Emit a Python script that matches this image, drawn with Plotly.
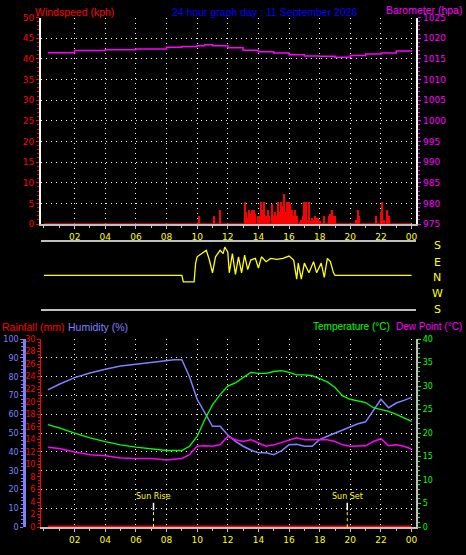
import plotly.graph_objects as go

# ---------------- data ----------------
hour_ticks = [2, 4, 6, 8, 10, 12, 14, 16, 18, 20, 22, 24]
hour_labels = ["02", "04", "06", "08", "10", "12", "14", "16", "18", "20", "22", "00"]

baro_h = [0.25, 2, 4, 6, 8, 9, 10, 10.5, 11, 12, 13, 14, 15, 16, 17, 18, 19, 20, 21, 22, 23, 24]
baro_v = [1016.5, 1017, 1017.2, 1017.4, 1017.8, 1018, 1018.2, 1018.4, 1018.2, 1017.7, 1017.1, 1016.7,
          1016.4, 1016, 1015.7, 1015.6, 1015.4, 1015.8, 1016.2, 1016.4, 1016.9, 1017.1]

wind_h = [10.1, 11.1, 11.5, 13.1, 13.2, 13.3, 13.4, 13.5, 13.6, 13.7, 13.8, 14.0, 14.1, 14.2, 14.3, 14.4,
          14.5, 14.6, 14.7, 14.9, 15.0, 15.1, 15.2, 15.3, 15.4, 15.5, 15.6, 15.7, 15.8, 15.9, 16.0, 16.1,
          16.2, 16.3, 16.4, 16.5, 16.7, 16.8, 16.9, 17.0, 17.1, 17.2, 17.3, 17.4, 17.5, 17.6, 17.7, 17.8,
          17.9, 18.0, 18.3, 18.6, 18.7, 18.8, 18.9, 19.0, 20.4, 20.5, 20.6, 21.7, 22.0, 22.1, 22.2, 22.4, 22.5]
wind_v = [2, 2, 3.5, 5.5, 3, 1.5, 3.5, 2.5, 3.5, 3.5, 2.5, 2, 2, 5.5, 3.5, 5.5,
          2, 3.5, 2, 5, 2, 3, 2, 5.5, 3, 5.5, 4.5, 7.5, 3, 5.5, 5.5, 5,
          3.5, 2, 3.5, 2, 0.5, 1, 2, 5.5, 5.5, 1, 5.5, 0.8, 1.5, 1, 2, 1.5,
          1.5, 0.8, 2, 2, 2.5, 3.5, 2, 2, 1, 3.5, 2, 2, 3, 5.5, 1, 3.5, 2]

dir_h = [0, 9.0, 9.1, 9.8, 9.9, 10, 10.3, 10.6, 10.8, 11, 11.2, 11.5, 11.7, 11.8, 12, 12.1, 12.3, 12.5,
         12.7, 12.9, 13.1, 13.3, 13.5, 13.8, 14, 14.2, 14.5, 14.8, 15.2, 15.6, 16, 16.3, 16.5, 16.6,
         16.8, 17, 17.3, 17.6, 17.8, 18.1, 18.3, 18.5, 18.7, 18.9, 19, 24]
dir_v = [0, 0, -36, -36, 68, 103, 121, 139, 85, 14, 103, 139, 121, 157, 130, 14, 121, 5,
         103, 14, 112, 32, 85, 94, 41, 103, 76, 94, 89, 94, 107, 85, -21, 68,
         -21, 68, 14, 76, 14, 68, -12, 94, 76, 14, 0, 0]

h_half = [0.25, 1, 2, 3, 4, 5, 6, 7, 8, 8.5, 9, 9.5, 10, 10.5, 11, 11.5, 12, 12.5, 13, 13.5, 14, 14.5,
          15, 15.5, 16, 16.5, 17, 17.5, 18, 18.5, 19, 19.5, 20, 20.5, 21, 21.5, 22, 22.5, 23, 23.5, 24]
humidity = [73, 76, 79.5, 82, 84, 85.7, 86.6, 87.6, 88.4, 89, 89, 80, 68, 61, 53.6, 53.6, 49, 45.6, 43,
            41, 39.5, 39.5, 38.5, 40.5, 43.8, 44, 43, 43, 46.5, 48.3, 50, 52, 53.6, 55, 56, 61.7, 68,
            63.5, 66, 67.4, 69]
temperature = [21.8, 21.1, 20, 19, 18.2, 17.5, 17, 16.6, 16.3, 16.3, 16.3, 17.2, 19.3, 22.9, 26, 28.2,
               30, 30.7, 31.8, 32.9, 32.7, 32.7, 33.1, 33.3, 32.9, 32.4, 32.4, 32.2, 31.6, 30.9, 29.7,
               27.9, 27.2, 26.8, 26.5, 25.4, 25, 24.6, 24, 23.3, 22.5]
dewpoint = [17, 16.7, 16, 15.4, 15.2, 14.7, 14.6, 14.6, 14.3, 14.4, 14.6, 15.4, 17.2, 17.3, 17.2, 17.5,
            19.3, 18.6, 18.2, 18.6, 17.9, 17.2, 17.5, 18, 18.6, 19, 18.6, 18.6, 18.7, 18.6, 18.2, 17.5,
            17.2, 17.2, 17.3, 18.2, 18.8, 17.3, 17.5, 17.2, 16.6]
rain_h = [0.25, 24]
rain_v = [0, 0]
sunrise, sunset = 7.15, 19.8

# ---------------- figure ----------------
FONT = "DejaVu Sans"
TFONT = "Liberation Sans"
XD = [0.088, 0.895]
DOT = "1px,4px"
fig = go.Figure()

fig.add_trace(go.Bar(x=wind_h, y=wind_v, width=0.09, marker=dict(color="#ff0000", line_width=0),
                     xaxis="x", yaxis="y"))
fig.add_trace(go.Scatter(x=[0.0, 24], y=[0, 0], mode="lines", line=dict(color="#ff0000", width=1.5),
                         xaxis="x", yaxis="y"))
fig.add_trace(go.Scatter(x=baro_h, y=baro_v, mode="lines", line=dict(color="#ff00ff", width=1.5, shape="hv"),
                         xaxis="x", yaxis="y2"))
fig.add_trace(go.Scatter(x=dir_h, y=dir_v, mode="lines", line=dict(color="#ffff00", width=1.3),
                         xaxis="x2", yaxis="y3"))
fig.add_trace(go.Scatter(x=rain_h, y=rain_v, mode="lines", line=dict(color="#ff0000", width=3),
                         xaxis="x3", yaxis="y5"))
fig.add_trace(go.Scatter(x=h_half, y=humidity, mode="lines", line=dict(color="#8080ff", width=1.5),
                         xaxis="x3", yaxis="y4"))
fig.add_trace(go.Scatter(x=h_half, y=temperature, mode="lines", line=dict(color="#00ff00", width=1.3),
                         xaxis="x3", yaxis="y6"))
fig.add_trace(go.Scatter(x=h_half, y=dewpoint, mode="lines", line=dict(color="#ff00ff", width=1.5),
                         xaxis="x3", yaxis="y6"))

xcommon = dict(range=[-0.2, 24.3], domain=XD, tickvals=hour_ticks, ticktext=hour_labels,
               tickfont=dict(color="#ffff00", size=9, family=FONT), showgrid=True, gridcolor="#ffffff",
               griddash=DOT, gridwidth=1, zeroline=False, ticks="outside", ticklen=3,
               tickcolor="#c0c0c0", showline=True, linecolor="#c0c0c0", linewidth=2,
               minor=dict(dtick=1, ticks="outside", ticklen=2, tickcolor="#c0c0c0"))

fig.update_layout(
    width=466, height=555, margin=dict(l=0, r=0, t=0, b=0),
    paper_bgcolor="#000000", plot_bgcolor="#000000", showlegend=False, bargap=0,
    xaxis=dict(anchor="y", **xcommon),
    xaxis2=dict(anchor="y3", range=[-0.2, 24.3], domain=XD, showticklabels=False, showgrid=False,
                zeroline=False, showline=True, mirror=True, linecolor="#c0c0c0", linewidth=2),
    xaxis3=dict(anchor="y5", **xcommon),
    yaxis=dict(domain=[0.598, 0.977], range=[0, 50], dtick=5, anchor="x",
               tickfont=dict(color="#ff0000", size=9, family=FONT), showgrid=True, gridcolor="#ffffff",
               griddash=DOT, zeroline=False, ticks="outside", ticklen=3, tickcolor="#ff0000",
               showline=True, linecolor="#ffffff", linewidth=2,
               minor=dict(dtick=1, ticks="outside", ticklen=2, tickcolor="#ff0000")),
    yaxis2=dict(range=[975, 1025], dtick=5, overlaying="y", side="right", anchor="x",
                tickfont=dict(color="#ff00ff", size=9, family=FONT), showgrid=False, zeroline=False,
                ticks="outside", ticklen=3, tickcolor="#ff00ff", showline=True, linecolor="#ffffff", linewidth=2,
                minor=dict(dtick=1, ticks="outside", ticklen=2, tickcolor="#ff00ff")),
    yaxis3=dict(domain=[0.443, 0.565], range=[-185, 185], anchor="x2", showticklabels=False,
                showgrid=False, zeroline=False, showline=False),
    yaxis5=dict(domain=[0.042, 0.387], range=[0, 30], dtick=2, anchor="x3",
                tickfont=dict(color="#ff0000", size=8, family=FONT), showgrid=False, zeroline=False,
                ticks="outside", ticklen=3, tickcolor="#ff0000", showline=True, linecolor="#ff0000",
                linewidth=1, minor=dict(dtick=0.5, ticks="outside", ticklen=2, tickcolor="#ff0000")),
    yaxis4=dict(range=[0, 100], dtick=10, overlaying="y5", anchor="free", position=0.052, side="left",
                tickfont=dict(color="#8080ff", size=8, family=FONT), showgrid=True, gridcolor="#ffffff",
                griddash=DOT, zeroline=False, ticks="outside", ticklen=3, tickcolor="#8080ff",
                showline=True, linecolor="#8080ff", linewidth=3,
                minor=dict(dtick=2, ticks="outside", ticklen=2, tickcolor="#8080ff")),
    yaxis6=dict(range=[0, 40], dtick=5, overlaying="y5", side="right", anchor="x3",
                tickfont=dict(color="#00ff00", size=8, family=FONT), showgrid=False, zeroline=False,
                ticks="outside", ticklen=3, tickcolor="#00ff00", showline=True, linecolor="#c0c0c0",
                linewidth=2, minor=dict(dtick=1, ticks="outside", ticklen=2, tickcolor="#00ff00")),
)

def ann(text, x, y, color, size=10.5, xanchor="left", xref="paper", yref="paper", family=TFONT):
    fig.add_annotation(text=text, x=x, y=y, xref=xref, yref=yref, showarrow=False, xanchor=xanchor,
                       yanchor="middle", font=dict(color=color, size=size, family=family))

ann("Windspeed (kph)", 0.072, 0.987, "#ff0000")
ann("24 hour graph day : 11 September 2026", 0.57, 0.987, "#0000ff", xanchor="center")
ann("Barometer (hpa)", 0.998, 0.99, "#ff00ff", xanchor="right")
ann("Rainfall (mm)", 0.0, 0.41, "#ff0000")
ann("Humidity (%)", 0.143, 0.41, "#8080ff")
ann("Temperature (°C)", 0.668, 0.41, "#00ff00", size=10)
ann("Dew Point (°C)", 0.998, 0.41, "#ff00ff", xanchor="right", size=10)
for lab, yp in zip(["S", "E", "N", "W", "S"], [245, 262, 278, 294, 310]):
    ann(lab, 0.94, 1 - yp / 555, "#ffff00", size=11, xanchor="center", family=FONT)

for h, lab in [(sunrise, "Sun Rise"), (sunset, "Sun Set")]:
    fig.add_shape(type="line", x0=h, x1=h, y0=2.7, y1=3.9, xref="x3", yref="y5",
                  line=dict(color="#ffffff", width=1.5))
    fig.add_shape(type="line", x0=h, x1=h, y0=0, y1=2.7, xref="x3", yref="y5",
                  line=dict(color="#ffff00", width=1, dash="dot"))
    ann(lab, h, 4.9, "#ffff00", size=8, xanchor="center", xref="x3", yref="y5", family=FONT)

fig.write_html("out.html", config={"displayModeBar": False},
               post_script="document.body.style.margin='0';document.body.style.overflow='hidden';")
